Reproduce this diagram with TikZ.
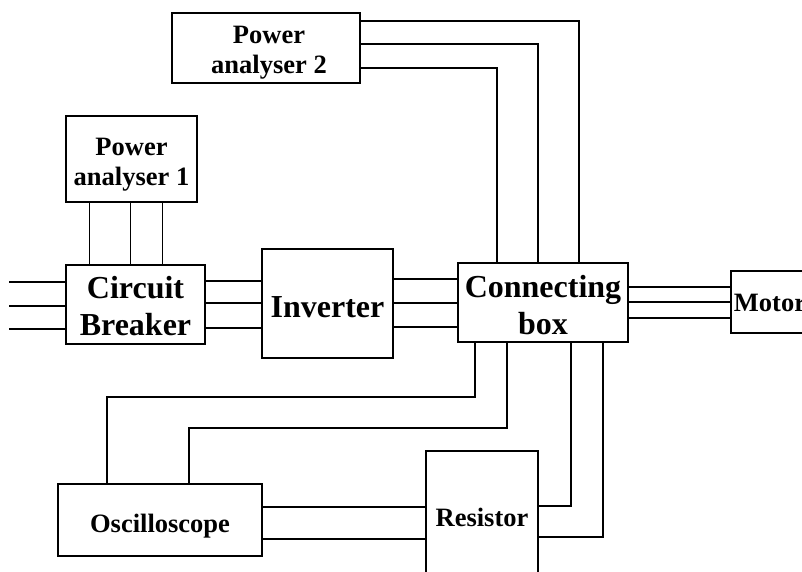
\documentclass[tikz,border=0pt]{standalone}
\usepackage{fontspec}
\setmainfont{Liberation Serif}
\usetikzlibrary{calc}
\tikzset{
  blk/.style={draw, line width=1.3pt, inner sep=0pt},
  lbl/.style={inner sep=0pt, align=center},
  small/.style={font=\bfseries\fontsize{26.5}{30}\selectfont},
  large/.style={font=\bfseries\fontsize{32}{37}\selectfont},
  wire/.style={line width=1.3pt}
}
\begin{document}
\begin{tikzpicture}[x=1pt,y=-1pt]
\useasboundingbox (0,0) rectangle (802,572);
\clip (0,0) rectangle (802,572);
% blocks
\node[blk,minimum width=188pt,minimum height=70pt] (pa2) at (266,48) {};
\node[blk,minimum width=131pt,minimum height=86pt] (pa1) at (131.5,159) {};
\node[blk,minimum width=139pt,minimum height=79pt] (brk) at (135.5,304.5) {};
\node[blk,minimum width=131pt,minimum height=109pt] (inv) at (327.5,303.5) {};
\node[blk,minimum width=170pt,minimum height=79pt] (cbx) at (543,302.5) {};
\node[blk,minimum width=80pt,minimum height=62pt] (mot) at (771,302) {};
\node[blk,minimum width=204pt,minimum height=72pt] (osc) at (160,520) {};
\node[blk,minimum width=112pt,minimum height=139pt] (res) at (482,520.5) {};
% labels
\node[lbl,small] (pa2t) at ($(pa2)+(3,5)$) {Power\\analyser 2};
\node[lbl,small] (pa1t) at ($(pa1)+(0,6)$) {Power\\analyser 1};
\node[lbl,large] (brkt) at ($(brk)+(0,2)$) {Circuit\\Breaker};
\node[lbl,large] (invt) at ($(inv)+(0,4)$) {Inverter};
\node[lbl,large] (cbxt) at ($(cbx)+(0,3)$) {Connecting\\box};
\node[lbl,small] (mott) at ($(mot)+(-1,1)$) {Motor};
\node[lbl,small] (osct) at ($(osc)+(0,6)$) {Oscilloscope};
\node[lbl,small] (rest) at ($(res)+(0,-3)$) {Resistor};
% supply lines
\coordinate (s1) at (9,282);
\coordinate (s2) at (9,306);
\coordinate (s3) at (9,329);
\draw[wire] (s1) -- (brk.west |- s1);
\draw[wire] (s2) -- (brk.west |- s2);
\draw[wire] (s3) -- (brk.west |- s3);
% power analyser 1 to breaker
\foreach \dx in {24,65,97}{
  \draw[wire] ($(pa1.south west)+(\dx,0)$) -- ($(brk.north west)+(\dx,0)$);
}
% breaker to inverter
\foreach \yy in {281,303,328}{
  \draw[wire] (brk.east |- 0,\yy) -- (inv.west |- 0,\yy);
}
% inverter to connecting box
\foreach \yy in {279,303,327}{
  \draw[wire] (inv.east |- 0,\yy) -- (cbx.west |- 0,\yy);
}
% connecting box to motor
\foreach \yy in {287,302,318}{
  \draw[wire] (cbx.east |- 0,\yy) -- (mot.west |- 0,\yy);
}
% power analyser 2 to connecting box
\draw[wire] (pa2.east |- 0,21) -| (cbx.north -| 579,0);
\draw[wire] (pa2.east |- 0,44) -| (cbx.north -| 538,0);
\draw[wire] (pa2.east |- 0,68) -| (cbx.north -| 497,0);
% connecting box to oscilloscope
\draw[wire] (cbx.south -| 475,0) -- (475,397) -| (osc.north -| 107,0);
\draw[wire] (cbx.south -| 507,0) -- (507,428) -| (osc.north -| 189,0);
% oscilloscope to resistor
\draw[wire] (osc.east |- 0,507) -- (res.west |- 0,507);
\draw[wire] (osc.east |- 0,539) -- (res.west |- 0,539);
% connecting box to resistor
\draw[wire] (cbx.south -| 571,0) |- (res.east |- 0,506);
\draw[wire] (cbx.south -| 603,0) |- (res.east |- 0,537);
\end{tikzpicture}
\end{document}
